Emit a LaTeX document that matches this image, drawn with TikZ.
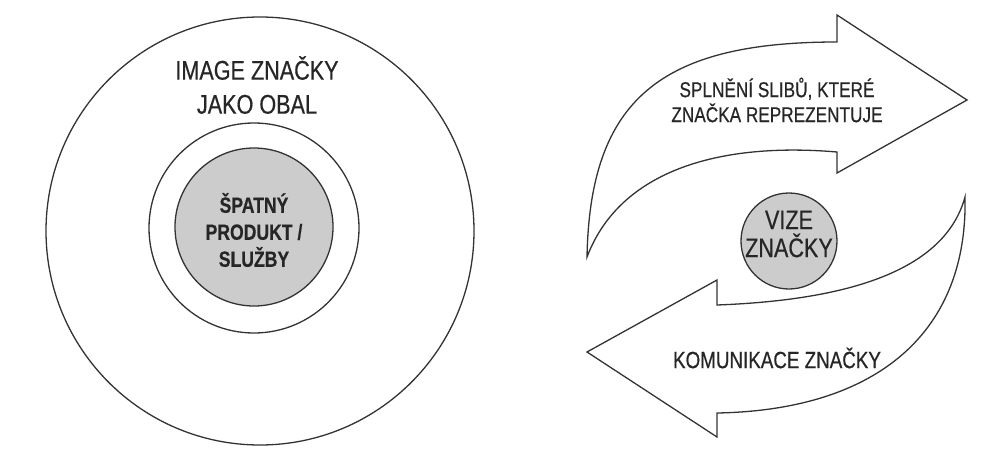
\documentclass[tikz,border=0pt]{standalone}
\usepackage{fontspec}
\setmainfont{Liberation Sans}[FakeStretch=0.8,FakeBold=0.5]
\begin{document}
\begin{tikzpicture}[x=1pt,y=-1pt,
  line/.style={draw=black!80,line width=1.3pt},
  txt/.style={text=black!85,align=center,inner sep=0pt},
  grayfill/.style={line,fill=black!20}]
\useasboundingbox[fill=white] (0,0) rectangle (1006,450);
% left diagram
\draw[line] (260,231) circle (214);
\draw[line] (254,228) circle (105);
\draw[grayfill] (254,227) circle (79);
\node[txt,font=\fontsize{27}{34}\selectfont] (obal) at (257,85) {IMAGE ZNAČKY\\JAKO OBAL};
\node[txt,font=\bfseries\fontsize{22}{27}\selectfont] (produkt) at (254,230) {ŠPATNÝ\\PRODUKT /\\SLUŽBY};
% right diagram
\draw[line,fill=white] (587,257) .. controls (590,100) and (660,42) .. (837,42)
  -- (837,15) -- (967,100) -- (837,173) -- (837,152)
  .. controls (720,142) and (620,170) .. (587,257) -- cycle;
\draw[line,fill=white] (965,197) .. controls (968,330) and (880,410) .. (717,413)
  -- (717,437) -- (587,352) -- (717,280) -- (717,305)
  .. controls (850,300) and (945,270) .. (965,197) -- cycle;
\draw[grayfill] (789,241) circle (48);
\node[txt,font=\fontsize{27}{28}\selectfont] (vize) at (789,234) {VIZE\\ZNAČKY};
\node[txt,font=\fontsize{21.5}{25}\selectfont] (sliby) at (777,100) {SPLNĚNÍ SLIBŮ, KTERÉ\\ZNAČKA REPREZENTUJE};
\node[txt,font=\fontsize{23.5}{25}\selectfont] (komunikace) at (777,358) {KOMUNIKACE ZNAČKY};
\end{tikzpicture}
\end{document}
